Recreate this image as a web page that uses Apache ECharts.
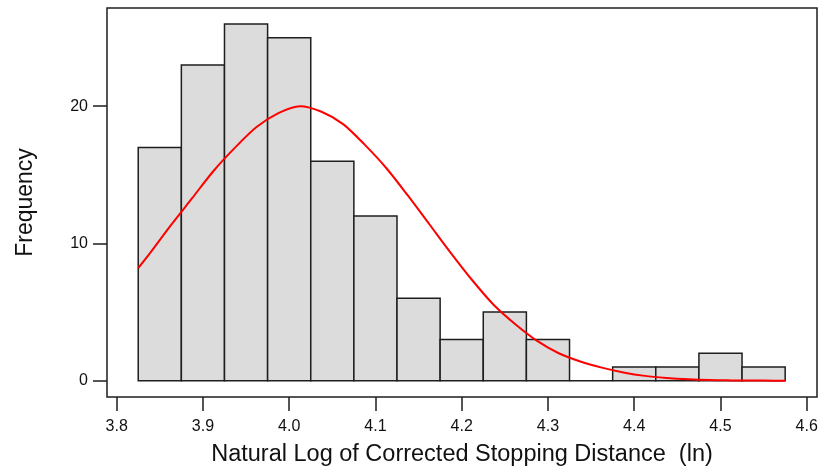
<!DOCTYPE html>
<html><head><meta charset="utf-8">
<script src="https://cdn.jsdelivr.net/npm/echarts@6/dist/echarts.min.js"></script>
<style>html,body{margin:0;padding:0;background:#fff}#c{width:824px;height:474px}</style>
</head><body><div id="c"></div>
<script>
// Histogram bins (bin edges) and frequencies
const binStarts = [3.825, 3.875, 3.925, 3.975, 4.025, 4.075, 4.125, 4.175, 4.225, 4.275, 4.325, 4.375, 4.425, 4.475, 4.525];
const binEnds   = [3.875, 3.925, 3.975, 4.025, 4.075, 4.125, 4.175, 4.225, 4.275, 4.325, 4.375, 4.425, 4.475, 4.525, 4.575];
const counts    = [17, 23, 26, 25, 16, 12, 6, 3, 5, 3, 0, 1, 1, 2, 1];

// Fitted curve
const curveX = [3.825, 3.8375, 3.8625, 3.8875, 3.9125, 3.9375, 3.9625, 3.9875, 4.0125, 4.0375, 4.0625, 4.0875, 4.1125, 4.1375, 4.1625, 4.1875, 4.2125, 4.2375, 4.2625, 4.2875, 4.3125, 4.3375, 4.3625, 4.3875, 4.4125, 4.4375, 4.4625, 4.4875, 4.5125, 4.5375, 4.5625, 4.575];
const curveY = [8.2, 9.2, 11.3, 13.3, 15.3, 17.0, 18.5, 19.5, 20.0, 19.6, 18.7, 17.2, 15.5, 13.5, 11.4, 9.3, 7.3, 5.5, 4.1, 2.9, 2.0, 1.4, 0.95, 0.6, 0.35, 0.2, 0.1, 0.04, 0.02, 0.01, 0, 0];

// Axis ticks
const xTicks = [3.8, 3.9, 4.0, 4.1, 4.2, 4.3, 4.4, 4.5, 4.6];
const yTicks = [0, 10, 20];

const xTitle = 'Natural Log of Corrected Stopping Distance  (ln)';
const yTitle = 'Frequency';

const histData = binStarts.map((s, i) => [s, binEnds[i], counts[i]]);
const curveData = curveX.map((x, i) => [x, curveY[i]]);

const FONT = '"Liberation Sans", Arial, sans-serif';
const INK = '#1e1e1e';

const chart = echarts.init(document.getElementById('c'), null, {renderer: 'canvas'});
chart.setOption({
  animation: false,
  backgroundColor: '#fff',
  grid: {left: 107, right: 7, top: 8, bottom: 77, show: true, borderColor: INK, borderWidth: 1.5, backgroundColor: 'transparent'},
  xAxis: {
    type: 'value', min: 3.7888, max: 4.6119,
    axisLine: {show: false, onZero: false},
    splitLine: {show: false},
    axisTick: {show: true, customValues: xTicks, length: 14, lineStyle: {color: INK, width: 1.5}},
    axisLabel: {customValues: xTicks, margin: 22, color: '#111', fontFamily: FONT, fontSize: 16, formatter: v => v.toFixed(1)},
    name: xTitle, nameLocation: 'middle', nameGap: 46,
    nameTextStyle: {fontFamily: FONT, fontSize: 23.5, color: '#111'}
  },
  yAxis: {
    type: 'value', min: -1.19, max: 27.16,
    axisLine: {show: false, onZero: false},
    splitLine: {show: false},
    axisTick: {show: true, customValues: yTicks, length: 14, lineStyle: {color: INK, width: 1.5}},
    axisLabel: {customValues: yTicks, margin: 19, color: '#111', fontFamily: FONT, fontSize: 16},
    name: yTitle, nameLocation: 'middle', nameGap: 70,
    nameTextStyle: {fontFamily: FONT, fontSize: 23, color: '#111'}
  },
  series: [
    {
      type: 'custom',
      data: histData,
      encode: {x: [0, 1], y: 2},
      z: 2,
      renderItem: function (params, api) {
        const x0 = api.value(0), x1 = api.value(1), h = api.value(2);
        const p0 = api.coord([x0, 0]);
        const p1 = api.coord([x1, h]);
        return {
          type: 'rect',
          shape: {x: p0[0], y: p1[1], width: p1[0] - p0[0], height: p0[1] - p1[1]},
          style: {fill: '#dcdcdc', stroke: INK, lineWidth: 1.5}
        };
      }
    },
    {
      type: 'line',
      data: curveData,
      smooth: 0.3,
      showSymbol: false,
      z: 5,
      lineStyle: {color: '#ff0000', width: 2}
    }
  ]
});
</script>
</body></html>
